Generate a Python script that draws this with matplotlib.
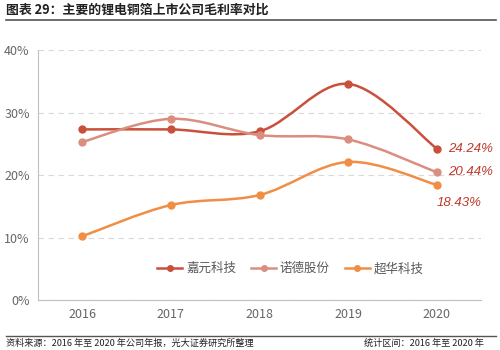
import matplotlib
matplotlib.use("Agg")
import matplotlib.pyplot as plt
from matplotlib.path import Path
from matplotlib.patches import PathPatch
from matplotlib.lines import Line2D

plt.rcParams['font.family'] = ['Noto Sans CJK SC', 'DejaVu Sans']

years = ["2016", "2017", "2018", "2019", "2020"]
jiayuan = [27.3, 27.3, 27.0, 34.6, 24.24]
nuode = [25.3, 29.0, 26.4, 25.7, 20.44]
chaohua = [10.2, 15.2, 16.8, 22.1, 18.43]
series_names = ["嘉元科技", "诺德股份", "超华科技"]
end_labels = ["24.24%", "20.44%", "18.43%"]
yticks = [0, 10, 20, 30, 40]

colors = ["#C9503A", "#DB8E80", "#F08E45"]
label_color = "#C0392B"

fig = plt.figure(figsize=(5, 3.5), dpi=100)
ax = fig.add_axes([0.076, 0.1429, 0.886, 0.714])

x = list(range(len(years)))


def smooth_path(xs, ys, t=1/6):
    verts = [(xs[0], ys[0])]
    codes = [Path.MOVETO]
    n = len(xs)
    for i in range(n - 1):
        x0, y0 = (xs[i - 1], ys[i - 1]) if i > 0 else (xs[i], ys[i])
        x1, y1 = xs[i], ys[i]
        x2, y2 = xs[i + 1], ys[i + 1]
        x3, y3 = (xs[i + 2], ys[i + 2]) if i + 2 < n else (xs[i + 1], ys[i + 1])
        c1 = (x1 + (x2 - x0) * t, y1 + (y2 - y0) * t)
        c2 = (x2 - (x3 - x1) * t, y2 - (y3 - y1) * t)
        verts += [c1, c2, (x2, y2)]
        codes += [Path.CURVE4] * 3
    return Path(verts, codes)

handles = []
for vals, c, name in zip([jiayuan, nuode, chaohua], colors, series_names):
    p = PathPatch(smooth_path(x, vals), facecolor="none", edgecolor=c, lw=1.8, zorder=3)
    ax.add_patch(p)
    ax.plot(x, vals, linestyle="none", marker="o", ms=5, color=c, zorder=4)
    handles.append(Line2D([], [], color=c, lw=1.8, marker="o", ms=4))

ax.set_xlim(-0.5, 4.5)
ax.set_ylim(0, 40)
ax.set_xticks(x)
ax.set_xticklabels(years)
ax.set_yticks(yticks)
ax.set_yticklabels([f"{v}%" for v in yticks])
ax.tick_params(axis="both", length=0, labelsize=9, colors="#666666", pad=6)
ax.grid(axis="y", linestyle=(0, (5, 4)), color="#D9D9D9", lw=0.8)
ax.set_axisbelow(True)
for s in ["top", "right"]:
    ax.spines[s].set_visible(False)
for s in ["left", "bottom"]:
    ax.spines[s].set_color("#BFBFBF")
    ax.spines[s].set_linewidth(0.8)

lab_kw = dict(textcoords="offset points", color=label_color, fontsize=9.5,
              style="italic", family=["Liberation Sans", "DejaVu Sans"])
ax.annotate(end_labels[0], (4, jiayuan[4]), xytext=(8, 0), va="center", ha="left", **lab_kw)
ax.annotate(end_labels[1], (4, nuode[4]), xytext=(8, 0), va="center", ha="left", **lab_kw)
ax.annotate(end_labels[2], (4, chaohua[4]), xytext=(0, -9), va="top", ha="left", **lab_kw)

ax.legend(handles, series_names, loc="center", bbox_to_anchor=(0.57, 0.125), ncol=3,
          frameon=False, fontsize=9, labelcolor="#595959", handlelength=2.0,
          handletextpad=0.3, columnspacing=1.2)

fig.text(0.012, 0.972, "图表 29：主要的锂电铜箔上市公司毛利率对比", fontsize=9.3,
         fontweight="bold", color="#222222", va="center", ha="left")
fig.add_artist(Line2D([0.012, 0.992], [0.943, 0.943], color="#555555", lw=1.2))
fig.add_artist(Line2D([0.012, 0.992], [0.04, 0.04], color="#555555", lw=1.0))
fig.text(0.012, 0.018, "资料来源：2016 年至 2020 年公司年报，光大证券研究所整理", fontsize=6.6,
         color="#222222", va="center", ha="left")
fig.text(0.968, 0.018, "统计区间：2016 年至 2020 年", fontsize=6.6,
         color="#222222", va="center", ha="right")

fig.savefig("out.png", dpi=100)
